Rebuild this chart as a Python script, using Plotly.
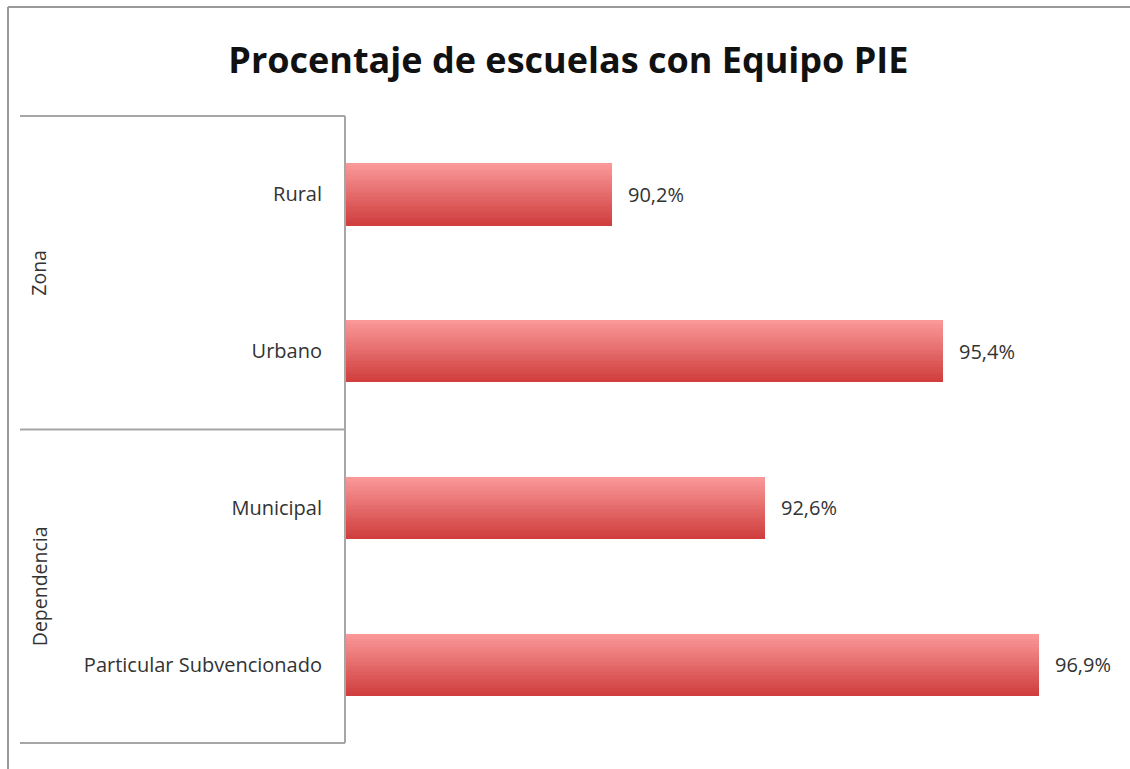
import plotly.graph_objects as go

# Percentage of schools with a PIE team, by zone and by administration type
categories = ["Rural", "Urbano", "Municipal", "Particular Subvencionado"]
values = [90.2, 95.4, 92.6, 96.9]
groups = ["Zona", "Dependencia"]
group_centers = [0.5, 2.5]  # midpoint of each group's two categories
group_splits = [1.5]        # boundary between the two groups

W, H = 1130, 769
ML, MR, MT, MB = 345, 21, 116, 26
PW, PH = W - ML - MR, H - MT - MB

def px_x(p):
    return (p - ML) / PW

def px_y(p):
    return (H - MB - p) / PH

FONT = "Open Sans"
TEXT = "#333333"
LINE = "#a6a6a6"

fig = go.Figure()

# bars drawn as horizontal stripes to give a top-to-bottom gradient
BAR_W = 0.395
N = 24
top = (250, 152, 152)
bottom = (208, 62, 62)
for k in range(N):
    t = k / (N - 1)
    c = tuple(round(top[i] + (bottom[i] - top[i]) * t) for i in range(3))
    fig.add_trace(go.Bar(
        x=values, y=categories, orientation="h",
        width=BAR_W / N + 0.002, offset=-BAR_W / 2 + k * BAR_W / N,
        marker=dict(color="rgb(%d,%d,%d)" % c, line=dict(width=0)),
        hoverinfo="skip", showlegend=False,
    ))

# value labels to the right of each bar
for cat, v in zip(categories, values):
    fig.add_annotation(
        x=v, y=cat, xref="x", yref="y", xanchor="left", yanchor="middle",
        xshift=14, showarrow=False,
        text=f"{v:.1f}".replace(".", ",") + "%",
        font=dict(family=FONT, size=20, color=TEXT),
    )

# group labels, rotated
for g, yc in zip(groups, group_centers):
    fig.add_annotation(
        x=px_x(39), y=yc, xref="paper", yref="y", textangle=-90,
        xanchor="center", yanchor="middle",
        showarrow=False, text=g, font=dict(family=FONT, size=19.5, color=TEXT),
    )

shapes = []
box = dict(color=LINE, width=2)
# category axis box
shapes.append(dict(type="line", xref="paper", yref="paper",
                   x0=px_x(20), x1=0, y0=1, y1=1, line=box))
shapes.append(dict(type="line", xref="paper", yref="paper",
                   x0=px_x(20), x1=0, y0=0, y1=0, line=box))
shapes.append(dict(type="line", xref="paper", yref="paper",
                   x0=0, x1=0, y0=0, y1=1, line=box))
for s in group_splits:
    shapes.append(dict(type="line", xref="paper", yref="y",
                       x0=px_x(20), x1=0, y0=s, y1=s, line=box))
# outer chart frame
frame = dict(color="#999999", width=2)
shapes.append(dict(type="line", xref="paper", yref="paper",
                   x0=px_x(8), x1=px_x(W + 5), y0=px_y(7), y1=px_y(7), line=frame))
shapes.append(dict(type="line", xref="paper", yref="paper",
                   x0=px_x(8), x1=px_x(8), y0=px_y(7), y1=px_y(H + 5), line=frame))

fig.update_layout(
    width=W, height=H, autosize=False,
    margin=dict(l=ML, r=MR, t=MT, b=MB),
    paper_bgcolor="white", plot_bgcolor="white",
    barmode="overlay", bargap=0,
    shapes=shapes,
    title=dict(text="<b>Procentaje de escuelas con Equipo PIE</b>",
               x=0.503, xref="container", xanchor="center",
               y=1 - 60 / H, yref="container", yanchor="middle",
               font=dict(family=FONT, size=36, color="#111111")),
    xaxis=dict(range=[86, 98], visible=False, fixedrange=True),
    yaxis=dict(categoryorder="array", categoryarray=categories,
               range=[3.5, -0.5], showline=False, showgrid=False,
               ticks="", ticklabelstandoff=22, zeroline=False,
               tickfont=dict(family=FONT, size=20, color=TEXT)),
)

fig.write_html("out.html")
